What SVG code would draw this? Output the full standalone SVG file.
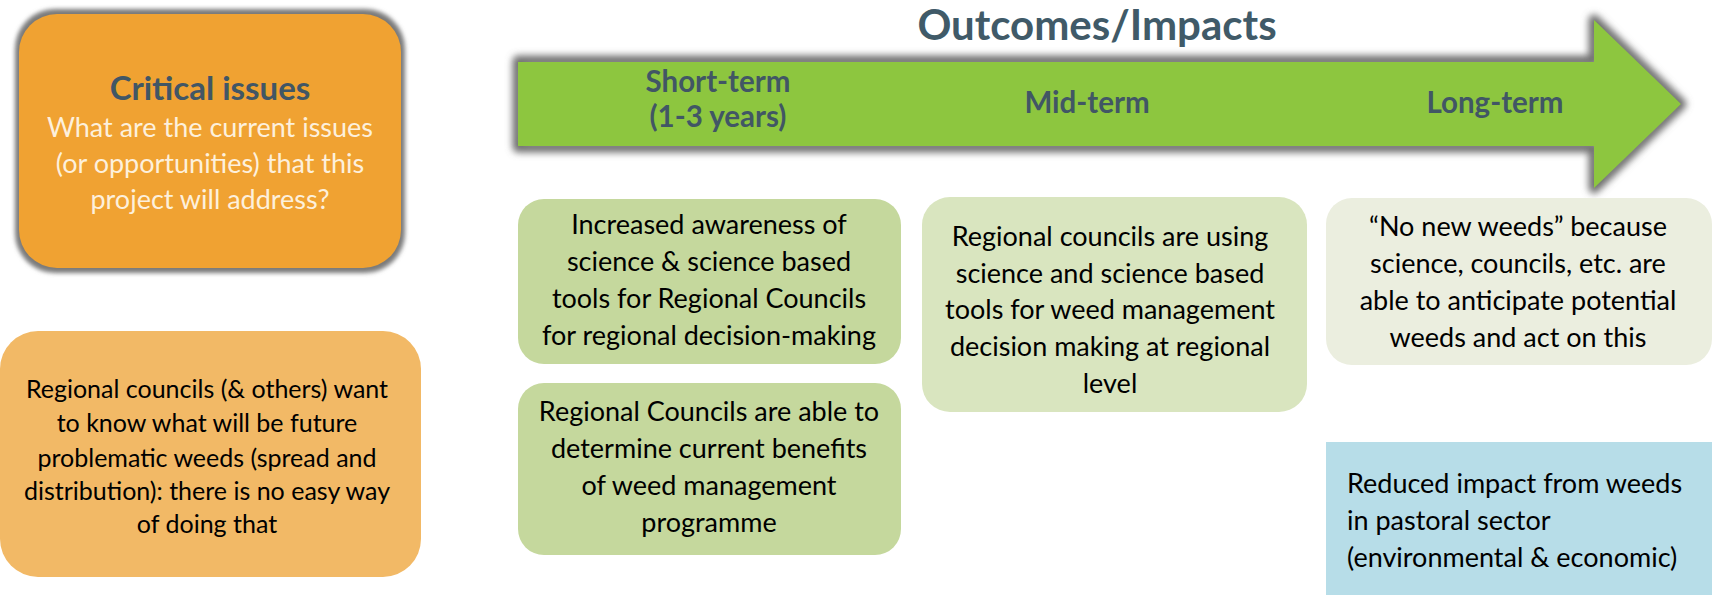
<svg xmlns="http://www.w3.org/2000/svg" width="1712" height="595" viewBox="0 0 1712 595">
<defs>
<style>
.t{font-family:Lato,"Open Sans","Liberation Sans",sans-serif;}
.body{font-size:27px;fill:#000;text-anchor:middle;}
.small{font-size:25px;}
.lbl{font-size:29.5px;font-weight:bold;fill:#415665;text-anchor:middle;}
</style>
<filter id="blur3" x="-10%" y="-20%" width="120%" height="140%"><feGaussianBlur stdDeviation="3.5"/></filter>
<filter id="blur2" x="-10%" y="-10%" width="120%" height="120%"><feGaussianBlur stdDeviation="2"/></filter>
</defs>
<rect width="1712" height="595" fill="#fff"/>

<g id="title">
<text class="t" x="1097" y="40" font-size="42" font-weight="bold" fill="#405a68" text-anchor="middle">Outcomes/Impacts</text>
</g>

<g id="timeline-arrow">
<polygon points="518,61 1594,61 1594,20 1681,104 1594,188 1594,147 518,147" fill="none" stroke="#707070" stroke-width="11" stroke-linejoin="round" filter="url(#blur3)"/>
<polygon points="518,62 1594,62 1594,20 1681,104 1594,188 1594,146 518,146" fill="#8dc63f"/>
<text class="t lbl" x="718" y="92">Short-term</text>
<text class="t lbl" x="718" y="127">(1-3 years)</text>
<text class="t lbl" x="1087" y="113">Mid-term</text>
<text class="t lbl" x="1495" y="113">Long-term</text>
</g>

<g id="critical-issues">
<rect x="15" y="9" width="390" height="264" rx="40" fill="#7a7a7a" filter="url(#blur2)"/>
<rect x="19" y="14" width="382" height="254" rx="38" fill="#f0a232"/>
<text class="t" x="210" y="100" font-size="33" font-weight="bold" fill="#415665" text-anchor="middle">Critical issues</text>
<text class="t" x="210" y="137" font-size="27" fill="#fdf0dc" text-anchor="middle">What are the current issues</text>
<text class="t" x="210" y="173" font-size="27" fill="#fdf0dc" text-anchor="middle">(or opportunities) that this</text>
<text class="t" x="210" y="209" font-size="27" fill="#fdf0dc" text-anchor="middle">project will address?</text>
</g>

<g id="issue-box">
<rect x="0" y="331" width="421" height="246" rx="38" fill="#f2b966"/>
<text class="t body small" x="207" y="398">Regional councils (&amp; others) want</text>
<text class="t body small" x="207" y="432">to know what will be future</text>
<text class="t body small" x="207" y="467">problematic weeds (spread and</text>
<text class="t body small" x="207" y="500">distribution): there is no easy way</text>
<text class="t body small" x="207" y="533">of doing that</text>
</g>

<g id="short-term-1">
<rect x="518" y="199" width="383" height="165" rx="26" fill="#c5d89d"/>
<text class="t body" x="709" y="234">Increased awareness of</text>
<text class="t body" x="709" y="271">science &amp; science based</text>
<text class="t body" x="709" y="308">tools for Regional Councils</text>
<text class="t body" x="709" y="345">for regional decision-making</text>
</g>

<g id="short-term-2">
<rect x="518" y="383" width="383" height="172" rx="26" fill="#c5d89d"/>
<text class="t body" x="709" y="421">Regional Councils are able to</text>
<text class="t body" x="709" y="458">determine current benefits</text>
<text class="t body" x="709" y="495">of weed management</text>
<text class="t body" x="709" y="532">programme</text>
</g>

<g id="mid-term">
<rect x="922" y="197" width="385" height="215" rx="28" fill="#d9e5bf"/>
<text class="t body" x="1110" y="246">Regional councils are using</text>
<text class="t body" x="1110" y="283">science and science based</text>
<text class="t body" x="1110" y="319">tools for weed management</text>
<text class="t body" x="1110" y="356">decision making at regional</text>
<text class="t body" x="1110" y="393">level</text>
</g>

<g id="long-term">
<rect x="1326" y="198" width="386" height="167" rx="26" fill="#ebeedf"/>
<text class="t body" x="1518" y="236">“No new weeds” because</text>
<text class="t body" x="1518" y="273">science, councils, etc. are</text>
<text class="t body" x="1518" y="310">able to anticipate potential</text>
<text class="t body" x="1518" y="347">weeds and act on this</text>
</g>

<g id="impact">
<rect x="1326" y="442" width="386" height="153" fill="#b7dde8"/>
<text class="t" x="1347" y="493" font-size="27" fill="#000">Reduced impact from weeds</text>
<text class="t" x="1347" y="530" font-size="27" fill="#000">in pastoral sector</text>
<text class="t" x="1347" y="567" font-size="27" fill="#000">(environmental &amp; economic)</text>
</g>

<g id="connectors"></g>
</svg>
